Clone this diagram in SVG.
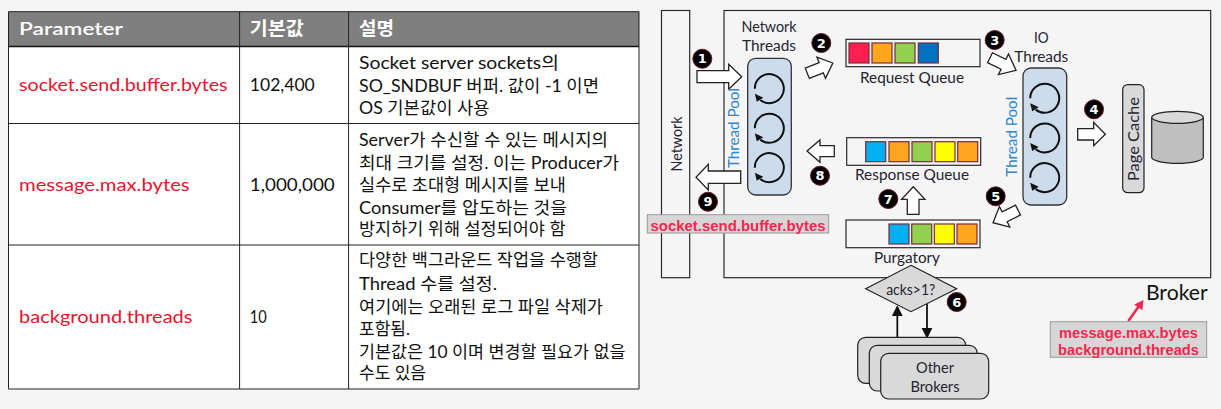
<svg xmlns="http://www.w3.org/2000/svg" xmlns:xlink="http://www.w3.org/1999/xlink" width="1221" height="409" viewBox="0 0 1221 409">
<style>
text{font-family:"Lato","Noto Sans CJK KR","Noto Sans",sans-serif;fill:#1f2430}
.b{font-size:17px;fill:#111;font-weight:400}
.p{font-size:18px;fill:#e8132f;font-weight:400}
.h{font-size:18px;font-weight:600;fill:#fff}
.l{font-size:15.5px;font-weight:400;text-anchor:middle;dominant-baseline:central;fill:#1f2430}
.tp{font-size:15.5px;font-weight:400;text-anchor:middle;dominant-baseline:central;fill:#2e86d0}
.r{font-family:"Liberation Sans",Arial,sans-serif;font-weight:700;font-size:15px;text-anchor:middle;dominant-baseline:central;fill:#f5264f}
.n{font-family:"DejaVu Sans",sans-serif;font-weight:700;font-size:13px;text-anchor:middle;dominant-baseline:central;fill:#fff}
.grid{stroke:#222;stroke-width:1;fill:none}
.box{fill:#f5f5f5;stroke:#2a2a2a;stroke-width:1.2}
.g{fill:#d9d9d9;stroke:#222;stroke-width:1.2}
.pool{fill:#cddcec;stroke:#333;stroke-width:1.3}
.q{stroke:#7a2a3a;stroke-width:1.2}
.arrow{fill:#fff;stroke:#222;stroke-width:1.3;stroke-linejoin:miter}
.tag{fill:#d6d6d6;stroke:#999;stroke-width:1}
.dot{fill:#000;stroke:#6a1626;stroke-width:1}
</style>
<defs>
<g id="spin"><path d="M-14.5,0A14.5,14.5 0 1 1-9,11.3" fill="none" stroke="#111" stroke-width="2"/><path d="M-14.5,5L-6,9L-12.5,13Z" fill="#111"/></g>
<marker id="tri" markerWidth="7" markerHeight="7" refX="5" refY="3" orient="auto"><path d="M0,0L6,3L0,6Z" fill="#111"/></marker>
</defs>
<rect width="1221" height="409" fill="#f5f5f5"/>
<g id="table">
<rect x="8.5" y="11.7" width="630.5" height="34.8" fill="#7f7f7f"/>
<rect x="8.5" y="46.5" width="630.5" height="342.5" fill="#fff"/>
<path class="grid" d="M8.5,11.7H639V389H8.5ZM8.5,123.5H639M8.5,245H639M239.6,11.7V389M348.6,11.7V389"/>
<path d="M8.5,46.5H639" stroke="#111" stroke-width="1.5"/>
<text class="h" x="19" y="35" textLength="104" lengthAdjust="spacingAndGlyphs">Parameter</text>
<text class="h" x="249.8" y="35" textLength="54" lengthAdjust="spacingAndGlyphs">기본값</text>
<text class="h" x="359" y="35" textLength="35" lengthAdjust="spacingAndGlyphs">설명</text>
<text class="p" x="19" y="91" textLength="208.6" lengthAdjust="spacingAndGlyphs">socket.send.buffer.bytes</text>
<text class="b" x="249.8" y="91" textLength="65" lengthAdjust="spacingAndGlyphs">102,400</text>
<text class="b" x="359" y="69" textLength="200" lengthAdjust="spacingAndGlyphs">Socket server sockets의</text>
<text class="b" x="359" y="92" textLength="240" lengthAdjust="spacingAndGlyphs">SO_SNDBUF 버퍼. 값이 -1 이면</text>
<text class="b" x="359" y="114" textLength="130.6" lengthAdjust="spacingAndGlyphs">OS 기본값이 사용</text>
<text class="p" x="19" y="191" textLength="170.6" lengthAdjust="spacingAndGlyphs">message.max.bytes</text>
<text class="b" x="249.8" y="191" textLength="85" lengthAdjust="spacingAndGlyphs">1,000,000</text>
<text class="b" x="359" y="146" textLength="249" lengthAdjust="spacingAndGlyphs">Server가 수신할 수 있는 메시지의</text>
<text class="b" x="359" y="169" textLength="260" lengthAdjust="spacingAndGlyphs">최대 크기를 설정. 이는 Producer가</text>
<text class="b" x="359" y="191" textLength="207" lengthAdjust="spacingAndGlyphs">실수로 초대형 메시지를 보내</text>
<text class="b" x="359" y="214" textLength="208" lengthAdjust="spacingAndGlyphs">Consumer를 압도하는 것을</text>
<text class="b" x="359" y="235" textLength="206.5" lengthAdjust="spacingAndGlyphs">방지하기 위해 설정되어야 함</text>
<text class="p" x="19" y="323" textLength="173.5" lengthAdjust="spacingAndGlyphs">background.threads</text>
<text class="b" x="249.8" y="323" style="font-size:18px" textLength="17" lengthAdjust="spacingAndGlyphs">10</text>
<text class="b" x="359" y="266" textLength="239" lengthAdjust="spacingAndGlyphs">다양한 백그라운드 작업을 수행할</text>
<text class="b" x="359" y="290" textLength="138" lengthAdjust="spacingAndGlyphs">Thread 수를 설정.</text>
<text class="b" x="359" y="313" textLength="244" lengthAdjust="spacingAndGlyphs">여기에는 오래된 로그 파일 삭제가</text>
<text class="b" x="359" y="335" textLength="51" lengthAdjust="spacingAndGlyphs">포함됨.</text>
<text class="b" x="359" y="358" textLength="266.5" lengthAdjust="spacingAndGlyphs">기본값은 10 이며 변경할 필요가 없을</text>
<text class="b" x="359" y="379" textLength="67" lengthAdjust="spacingAndGlyphs">수도 있음</text>
</g>
<g id="broker"><rect class="box" x="724" y="10.5" width="486.7" height="267.2"/><text x="1176.8" y="291" font-size="21" text-anchor="middle" dominant-baseline="central" textLength="61.7" lengthAdjust="spacingAndGlyphs" style="fill:#111">Broker</text></g>
<g id="network"><rect class="box" x="661.5" y="10.5" width="28.2" height="267.2"/><text class="l" transform="translate(675.5 144) rotate(-90)" textLength="55" lengthAdjust="spacingAndGlyphs">Network</text></g>
<g id="connectors">
<path class="arrow" d="M697,70.7H728.7V64.3L741.7,76.7L728.7,89.3V82.7H697Z"/>
<path class="arrow" d="M740.7,171H708.3V164.3L696,177.3L708.3,190V183.3H740.7Z"/>
<path class="arrow" d="M834.3,145.7H820V140L807,151L820,162.3V156.7H834.3Z"/>
<path class="arrow" d="M1077.7,128.7H1093.7V122.3L1105.3,134.3L1093.7,145.7V140H1077.7Z"/>
<path class="arrow" d="M907.3,214.3V199.3H901.6L913.3,186.7L925,199.3H919V214.3Z"/>
<path class="arrow" transform="translate(807.3 73.3) rotate(-22)" d="M0,-5.5H15V-11.5L27.5,0L15,11.5V5.5H0Z"/>
<path class="arrow" transform="translate(990 57.7) rotate(26)" d="M0,-5.5H15V-11.5L29,0L15,11.5V5.5H0Z"/>
<path class="arrow" transform="translate(1018 210) rotate(153)" d="M0,-5.5H15V-11.5L28,0L15,11.5V5.5H0Z"/>
<path d="M897.3,337.3V307" fill="none" stroke="#111" stroke-width="1.8" marker-end="url(#tri)"/>
<path d="M927,304V337" fill="none" stroke="#111" stroke-width="1.8" marker-end="url(#tri)"/>
<path d="M1128.3,321L1139,306" fill="none" stroke="#f5264f" stroke-width="2.6"/>
<path d="M1143.5,300L1142.3,310.2L1134.2,304.4Z" fill="#f5264f"/>
</g>
<g id="network-threads">
<text class="l" x="769" y="26" textLength="55" lengthAdjust="spacingAndGlyphs">Network</text><text class="l" x="769" y="45" textLength="54" lengthAdjust="spacingAndGlyphs">Threads</text>
<rect class="pool" x="747.7" y="58.3" width="43.6" height="136.7" rx="8"/>
<use xlink:href="#spin" href="#spin" x="769.3" y="88.7"/><use xlink:href="#spin" href="#spin" x="769.3" y="128.3"/><use xlink:href="#spin" href="#spin" x="769.3" y="167.7"/>
<text class="tp" transform="translate(732.7 128) rotate(-90)" textLength="80" lengthAdjust="spacingAndGlyphs">Thread Pool</text>
</g>
<g id="request-queue">
<rect class="box" x="846" y="39.3" width="134" height="27.4"/>
<rect class="q" x="849" y="43" width="20" height="20" fill="#ff1e50"/><rect class="q" x="872" y="43" width="20" height="20" fill="#ffa51e"/><rect class="q" x="895" y="43" width="20" height="20" fill="#92d050"/><rect class="q" x="918.3" y="43" width="20" height="20" fill="#0070c0"/>
<text class="l" x="912" y="77" textLength="104" lengthAdjust="spacingAndGlyphs">Request Queue</text>
</g>
<g id="response-queue">
<rect class="box" x="846.7" y="137.7" width="134" height="27.6"/>
<rect class="q" x="865.7" y="141.7" width="20" height="20" fill="#00b0f0"/><rect class="q" x="889" y="141.7" width="20" height="20" fill="#ffa51e"/><rect class="q" x="912" y="141.7" width="20" height="20" fill="#92d050"/><rect class="q" x="935" y="141.7" width="20" height="20" fill="#ffff00"/><rect class="q" x="957.7" y="141.7" width="20" height="20" fill="#ffa51e"/>
<text class="l" x="912" y="174.3" textLength="114" lengthAdjust="spacingAndGlyphs">Response Queue</text>
</g>
<g id="purgatory">
<rect class="box" x="846" y="220" width="134" height="27.7"/>
<rect class="q" x="889" y="224" width="20" height="20" fill="#00b0f0"/><rect class="q" x="911.7" y="224" width="20" height="20" fill="#92d050"/><rect class="q" x="934.3" y="224" width="20" height="20" fill="#ffff00"/><rect class="q" x="957" y="224" width="20" height="20" fill="#ffa51e"/>
<text class="l" x="907" y="257" textLength="66" lengthAdjust="spacingAndGlyphs">Purgatory</text>
</g>
<g id="io-threads">
<text class="l" x="1041.3" y="36.7" textLength="14.7" lengthAdjust="spacingAndGlyphs">IO</text><text class="l" x="1041.3" y="56" textLength="54" lengthAdjust="spacingAndGlyphs">Threads</text>
<rect class="pool" x="1023" y="68" width="43.7" height="137" rx="8"/>
<use xlink:href="#spin" href="#spin" x="1044.7" y="98.3"/><use xlink:href="#spin" href="#spin" x="1044.7" y="138"/><use xlink:href="#spin" href="#spin" x="1044.7" y="177.7"/>
<text class="tp" transform="translate(1010.7 136.7) rotate(-90)" textLength="80" lengthAdjust="spacingAndGlyphs">Thread Pool</text>
</g>
<g id="page-cache"><rect class="g" x="1122.7" y="84.7" width="21.3" height="108" rx="5"/><text class="l" transform="translate(1133.3 139) rotate(-90)" textLength="84" lengthAdjust="spacingAndGlyphs">Page Cache</text></g>
<g id="disk">
<path d="M1151.7,117.3V157.3A25.8,6 0 0 0 1203.3,157.3V117.3Z" fill="#bfbfbf" stroke="#222" stroke-width="1.2"/>
<ellipse cx="1177.5" cy="117.3" rx="25.8" ry="6" fill="#d9d9d9" stroke="#222" stroke-width="1.2"/>
</g>
<g id="acks"><path class="g" d="M911,265.3L956.7,288.7L911,311.7L865.7,288.7Z"/><text class="l" x="910.7" y="289" textLength="49" lengthAdjust="spacingAndGlyphs">acks&gt;1?</text></g>
<g id="other-brokers">
<rect class="g" x="857.7" y="337.3" width="108" height="46" rx="8"/><rect class="g" x="869.3" y="345.3" width="108" height="45.7" rx="8"/><rect class="g" x="880.7" y="353.3" width="108" height="45.7" rx="8"/>
<text class="l" x="935" y="367" textLength="38" lengthAdjust="spacingAndGlyphs">Other</text><text class="l" x="935" y="386" textLength="49" lengthAdjust="spacingAndGlyphs">Brokers</text>
</g>
<g id="tag-socket"><rect class="tag" x="647.3" y="214.7" width="181.4" height="18.3"/><text class="r" x="738" y="225" textLength="175" lengthAdjust="spacingAndGlyphs">socket.send.buffer.bytes</text></g>
<g id="tag-broker"><rect class="tag" x="1050.3" y="321.7" width="156.4" height="35.6"/><text class="r" x="1128.5" y="332" textLength="139" lengthAdjust="spacingAndGlyphs">message.max.bytes</text><text class="r" x="1128.5" y="349" textLength="141" lengthAdjust="spacingAndGlyphs">background.threads</text></g>
<g id="badges">
<circle class="dot" cx="702.3" cy="58.7" r="9.5"/><text class="n" x="702.3" y="58.7">1</text>
<circle class="dot" cx="821.3" cy="43" r="9.5"/><text class="n" x="821.3" y="43">2</text>
<circle class="dot" cx="994.7" cy="40" r="9.5"/><text class="n" x="994.7" y="40">3</text>
<circle class="dot" cx="1094" cy="109.3" r="9.5"/><text class="n" x="1094" y="109.3">4</text>
<circle class="dot" cx="995.7" cy="196.3" r="9.5"/><text class="n" x="995.7" y="196.3">5</text>
<circle class="dot" cx="956.7" cy="302" r="9.5"/><text class="n" x="956.7" y="302">6</text>
<circle class="dot" cx="888.3" cy="199" r="9.5"/><text class="n" x="888.3" y="199">7</text>
<circle class="dot" cx="820" cy="175.7" r="9.5"/><text class="n" x="820" y="175.7">8</text>
<circle class="dot" cx="708" cy="201.7" r="9.5"/><text class="n" x="708" y="201.7">9</text>
</g>
</svg>
